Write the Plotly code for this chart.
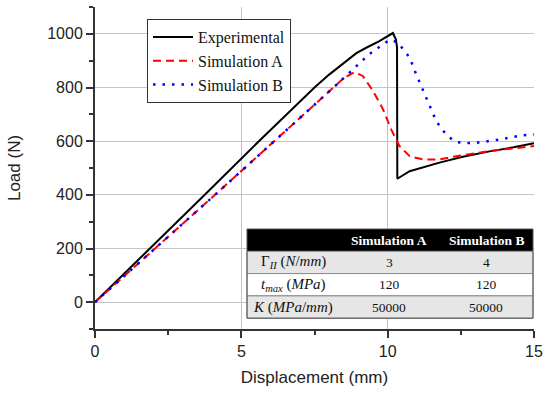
import plotly.graph_objects as go

# ---- data ----
exp_x = [0, 1.88, 3.75, 5.6, 7.5, 8.0, 8.6, 8.93, 9.3, 9.7, 10.18, 10.28, 10.32, 10.33,
         10.75, 11.2, 11.77, 12.57, 13.48, 14.3, 15]
exp_y = [0, 200, 400, 600, 800, 848, 900, 928, 950, 972, 1003, 980, 950, 460,
         488, 503, 520, 542, 562, 577, 592]

simA_x = [0, 4.1, 8.15, 8.5, 8.87, 9.15, 9.5, 9.84, 10.12, 10.4, 10.75, 11.2,
          11.77, 12.34, 13.48, 14.39, 15]
simA_y = [0, 400, 800, 835, 857, 843, 787, 719, 644, 582, 544, 532,
          532, 544, 563, 576, 582]

simB_x = [0, 4.1, 8.15, 8.8, 9.37, 9.77, 10.07, 10.35, 10.75, 10.97, 11.3, 11.66,
          11.88, 12.12, 12.34, 12.6, 13.02, 13.7, 14.6, 15]
simB_y = [0, 400, 800, 868, 924, 955, 978, 968, 912, 850, 764, 675,
          640, 613, 597, 593, 594, 604, 622, 625]

table_header = ["", "Simulation A", "Simulation B"]
table_params = ["Γ<i><sub>II</sub></i> (<i>N</i>/<i>mm</i>)",
                "<i>t<sub>max</sub></i> (<i>MPa</i>)",
                "<i>K</i> (<i>MPa</i>/<i>mm</i>)"]
table_simA = ["3", "120", "50000"]
table_simB = ["4", "120", "50000"]

x_ticks = [0, 5, 10, 15]
y_ticks = [0, 200, 400, 600, 800, 1000]

# ---- layout geometry (pixels) ----
W, H = 550, 394
ML, MR, MT, MB = 95, 16, 7, 65
PW, PH = W - ML - MR, H - MT - MB


def px(xp):
    return (xp - ML) / PW


def py(yp):
    return (H - MB - yp) / PH


fig = go.Figure()
fig.add_trace(go.Scatter(x=exp_x, y=exp_y, mode="lines", name="Experimental",
                         line=dict(color="#000000", width=2)))
fig.add_trace(go.Scatter(x=simA_x, y=simA_y, mode="lines", name="Simulation A",
                         line=dict(color="#ff0000", width=2, dash="8px,5px")))
fig.add_trace(go.Scatter(x=simB_x, y=simB_y, mode="lines", name="Simulation B",
                         line=dict(color="#0000ff", width=2.5, dash="2.5px,7px")))

# ---- parameter table (shapes + annotations) ----
col_edges = [247, 339, 439, 533]
tab_top = 229
row_h = 22.3
gray = "#e6e6e6"
row_fill = [gray, "#ffffff", gray]
rows = [table_params, table_simA, table_simB]
col_font_size = [15, 13.5, 13.5]
shapes = []
annotations = []
shapes.append(dict(type="rect", xref="paper", yref="paper",
                   x0=px(col_edges[0]), x1=px(col_edges[-1]),
                   y0=py(tab_top + row_h), y1=py(tab_top),
                   fillcolor="#000000", line=dict(width=0), layer="above"))
for c, txt in enumerate(table_header):
    if txt:
        annotations.append(dict(xref="paper", yref="paper",
                                x=px((col_edges[c] + col_edges[c + 1]) / 2),
                                y=py(tab_top + row_h / 2),
                                text="<b>" + txt + "</b>", showarrow=False,
                                xanchor="center", yanchor="middle",
                                font=dict(family="Liberation Serif", size=13.5, color="#ffffff")))
for r in range(len(table_params)):
    y0p = tab_top + row_h * (r + 1)
    shapes.append(dict(type="rect", xref="paper", yref="paper",
                       x0=px(col_edges[0]), x1=px(col_edges[-1]),
                       y0=py(y0p + row_h), y1=py(y0p),
                       fillcolor=row_fill[r], line=dict(color="#8a8a8a", width=1), layer="above"))
    for c in range(3):
        annotations.append(dict(xref="paper", yref="paper",
                                x=px((col_edges[c] + col_edges[c + 1]) / 2),
                                y=py(y0p + row_h / 2),
                                text=rows[c][r], showarrow=False,
                                xanchor="center", yanchor="middle",
                                font=dict(family="Liberation Serif", size=col_font_size[c], color="#111111")))
shapes.append(dict(type="rect", xref="paper", yref="paper",
                   x0=px(col_edges[0]), x1=px(col_edges[-1]),
                   y0=py(tab_top + row_h * 4), y1=py(tab_top),
                   fillcolor="rgba(0,0,0,0)", line=dict(color="#555555", width=1), layer="above"))

axis_font = dict(family="Liberation Sans", size=16, color="#222222")
fig.update_layout(
    width=W, height=H,
    margin=dict(l=ML, r=MR, t=MT, b=MB),
    paper_bgcolor="white", plot_bgcolor="white",
    showlegend=True,
    shapes=shapes, annotations=annotations,
    legend=dict(x=px(147), y=py(19), xanchor="left", yanchor="top",
                bgcolor="white", bordercolor="#333333", borderwidth=1,
                font=dict(family="Liberation Serif", size=16, color="#111111"),
                itemwidth=40, tracegroupgap=0),
    xaxis=dict(range=[0, 15], tickvals=x_ticks, ticktext=[str(v) for v in x_ticks],
               ticks="outside", ticklen=7, tickwidth=1.5, tickcolor="#333333",
               minor=dict(dtick=2.5, ticks="outside", ticklen=4, tickcolor="#333333", showgrid=False),
               showline=True, linecolor="#333333", linewidth=2,
               showgrid=True, gridcolor="#c4c4c4", gridwidth=1, zeroline=False,
               tickfont=axis_font,
               title=dict(text="Displacement (mm)", font=dict(family="Liberation Sans", size=17, color="#222222"),
                          standoff=12)),
    yaxis=dict(range=[-100, 1100], tickvals=y_ticks, ticktext=[str(v) for v in y_ticks],
               ticks="outside", ticklen=7, tickwidth=1.5, tickcolor="#333333",
               minor=dict(dtick=100, tick0=0, ticks="outside", ticklen=4, tickcolor="#333333", showgrid=False),
               showline=True, linecolor="#333333", linewidth=2,
               showgrid=True, gridcolor="#c4c4c4", gridwidth=1, zeroline=False,
               tickfont=axis_font,
               title=dict(text="Load (N)", font=dict(family="Liberation Sans", size=17, color="#222222"),
                          standoff=22)),
)

fig.write_html("out.html", config={"displayModeBar": False},
               post_script="document.body.style.margin='0';")
